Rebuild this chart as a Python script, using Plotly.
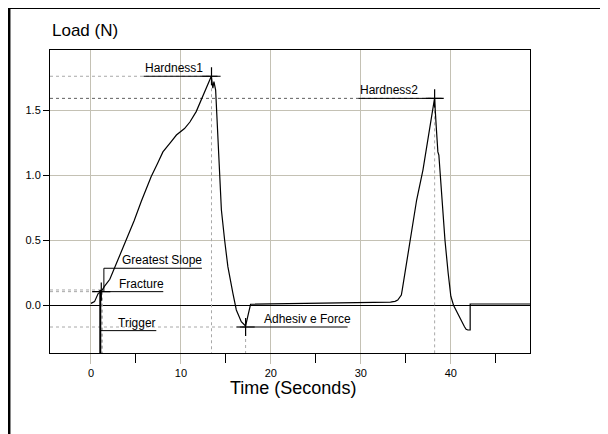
import plotly.graph_objects as go

# ---------------- data ----------------
time_s = [0.0, 0.4, 0.8, 1.15, 1.5, 2.1, 3.0, 3.9, 4.8, 5.6, 6.7, 7.4, 8.0, 8.9, 9.5,
          10.4, 11.0, 11.7, 12.4, 13.0, 13.38, 13.55, 13.67, 13.86, 14.3, 14.5, 14.86,
          15.22, 15.78, 16.16, 16.71, 17.19, 17.74, 20.0, 25.0, 30.0, 33.3, 33.6, 33.8,
          34.1, 34.5, 34.6, 35.4, 36.2, 36.9, 37.6, 38.19, 38.38, 38.56, 38.67, 39.0,
          39.35, 39.7, 40.0, 40.3, 40.78, 41.2, 41.52, 41.7, 41.9, 42.15, 42.15, 48.8]
load_n = [0.015, 0.028, 0.09, 0.105, 0.145, 0.2, 0.35, 0.5, 0.65, 0.80, 0.99, 1.09, 1.18,
          1.258, 1.31, 1.36, 1.41, 1.49, 1.60, 1.70, 1.762, 1.67, 1.72, 1.656, 0.965, 0.733,
          0.50, 0.297, 0.092, -0.036, -0.126, -0.159, 0.008, 0.010, 0.013, 0.018, 0.024,
          0.028, 0.030, 0.040, 0.079, 0.118, 0.46, 0.81, 1.04, 1.33, 1.592, 1.374, 1.18,
          1.156, 0.82, 0.50, 0.25, 0.07, 0.0, -0.07, -0.13, -0.165, -0.185, -0.19, -0.19,
          0.01, 0.01]

# analysis events
event_names = ["Hardness1", "Hardness2", "Fracture", "Adhesiv e Force"]
event_time = [13.4, 38.2, 1.15, 17.19]
event_load = [1.762, 1.592, 0.105, -0.167]
event_line_color = ["#a8a8a8", "#606060", "#a8a8a8", "#a8a8a8"]

greatest_slope_time = 1.44
greatest_slope_level = 0.285
trigger_time = 1.04
trigger_level = -0.195
fracture_extra_level = 0.118

x_tick_vals = [0, 10, 20, 30, 40]
y_tick_vals = [0.0, 0.5, 1.0, 1.5]
y_tick_text = ["0.0", "0.5", "1.0", "1.5"]

x_range = [-4.55, 48.8]
y_range = [-0.367, 1.964]

FONT = "Liberation Sans, Arial, sans-serif"
GRID = "#c4c1b4"

fig = go.Figure()

# level lines (dotted) from left edge to each event, and verticals down to the axis bottom
for name, t, v, c in zip(event_names, event_time, event_load, event_line_color):
    fig.add_trace(go.Scatter(x=[x_range[0], t], y=[v, v], mode="lines",
                             line=dict(color=c, width=1, dash="dot"), hoverinfo="skip"))
    fig.add_trace(go.Scatter(x=[t, t], y=[v, y_range[0]], mode="lines",
                             line=dict(color="#a8a8a8", width=1, dash="dot"), hoverinfo="skip"))
fig.add_trace(go.Scatter(x=[x_range[0], event_time[2]], y=[fracture_extra_level] * 2, mode="lines",
                         line=dict(color="#a8a8a8", width=1, dash="dot"), hoverinfo="skip"))
fig.add_trace(go.Scatter(x=[greatest_slope_time - 0.17] * 2, y=[event_load[2], y_range[0]], mode="lines",
                         line=dict(color="#a8a8a8", width=1, dash="dot"), hoverinfo="skip"))

# the load curve
fig.add_trace(go.Scatter(x=time_s, y=load_n, mode="lines",
                         line=dict(color="black", width=1.2), hoverinfo="skip"))

# label underlines
px_t = (x_range[1] - x_range[0]) / 480.0   # seconds per pixel
labels = [
    # text, underline start, underline end, level, text offset (px)
    ("Hardness1", event_time[0] - 68 * px_t, event_time[0] + 6 * px_t, event_load[0], 0),
    ("Hardness2", event_time[1] - 76 * px_t, event_time[1] + 7 * px_t, event_load[1], 0),
    ("Greatest Slope", greatest_slope_time, greatest_slope_time + 98 * px_t, greatest_slope_level, 17),
    ("Fracture", event_time[2] - 3 * px_t, event_time[2] + 62 * px_t, event_load[2], 20),
    ("Trigger", trigger_time, trigger_time + 56 * px_t, trigger_level, 17),
    ("Adhesiv e Force", event_time[3] - 6 * px_t, event_time[3] + 102 * px_t, event_load[3], 23),
]
for text, t0, t1, lvl, off in labels:
    fig.add_trace(go.Scatter(x=[t0, t1], y=[lvl, lvl], mode="lines",
                             line=dict(color="black", width=1), hoverinfo="skip"))
    fig.add_annotation(x=t0, y=lvl, xref="x", yref="y", text=text, showarrow=False,
                       xanchor="left", yanchor="bottom", xshift=off - 1, yshift=-1,
                       font=dict(family=FONT, size=12, color="black"))

# greatest slope vertical connector and trigger line
fig.add_trace(go.Scatter(x=[greatest_slope_time] * 2, y=[greatest_slope_level, event_load[2]],
                         mode="lines", line=dict(color="black", width=1), hoverinfo="skip"))
fig.add_trace(go.Scatter(x=[trigger_time] * 2, y=[fracture_extra_level, y_range[0]],
                         mode="lines", line=dict(color="black", width=2), hoverinfo="skip"))

# cross markers
fig.add_trace(go.Scatter(x=event_time, y=event_load, mode="markers",
                         marker=dict(symbol="cross-thin", size=13, line=dict(width=1.2, color="black")),
                         hoverinfo="skip"))

# the page adds an 8 px body margin, so margins are reduced by 8 px on the top/left
fig.update_layout(
    width=608, height=434, showlegend=False,
    margin=dict(l=42, r=86, t=42, b=89),
    paper_bgcolor="white", plot_bgcolor="white",
    font=dict(family=FONT, size=11, color="black"),
    xaxis=dict(range=x_range, tickvals=x_tick_vals, showgrid=True, gridcolor=GRID, gridwidth=1,
               zeroline=False, showline=True, linecolor="black", linewidth=1, mirror=True,
               ticks="outside", ticklen=10, tickcolor=GRID, tickwidth=1,
               tickfont=dict(family=FONT, size=11, color="black"),
               minor=dict(tick0=0, dtick=5, ticks="outside", ticklen=9, tickcolor="black",
                          tickwidth=1, showgrid=False)),
    yaxis=dict(range=y_range, tickvals=y_tick_vals, ticktext=y_tick_text, showgrid=True,
               gridcolor=GRID, gridwidth=1, zeroline=True, zerolinecolor="black", zerolinewidth=1,
               showline=True, linecolor="black", linewidth=1, mirror=True,
               ticks="outside", ticklen=6, tickcolor="black", tickwidth=1,
               tickfont=dict(family=FONT, size=11, color="black")),
)

fig.add_annotation(x=0, y=1.066, xref="paper", yref="paper", text="Load (N)", showarrow=False,
                   xanchor="left", yanchor="middle", font=dict(family=FONT, size=17, color="black"))
fig.add_annotation(x=0.507, y=-0.117, xref="paper", yref="paper", text="Time (Seconds)",
                   showarrow=False, xanchor="center", yanchor="middle",
                   font=dict(family=FONT, size=18, color="black"))

# outer frame (top and left edges)
fig.add_shape(type="line", xref="paper", yref="paper", x0=-0.0855, x1=1.2, y0=1.1405, y1=1.1405,
              line=dict(color="black", width=3))
fig.add_shape(type="line", xref="paper", yref="paper", x0=-0.0855, x1=-0.0855, y0=1.1405, y1=-0.3,
              line=dict(color="black", width=3))

fig.write_html("out.html")
